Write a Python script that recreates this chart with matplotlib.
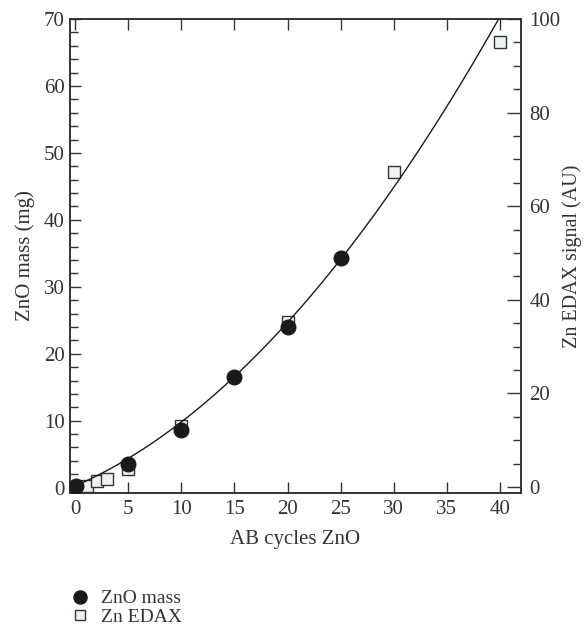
import numpy as np
import matplotlib.pyplot as plt
from matplotlib.ticker import MultipleLocator

plt.rcParams['font.family'] = ['Liberation Serif', 'DejaVu Serif']

# ZnO mass (left axis, mg)
mass_x = [0.1, 5, 10, 15, 20, 25]
mass_y = [0.2, 3.6, 8.6, 16.6, 24.0, 34.3]

# Zn EDAX signal (right axis, AU)
edax_x = [1.1, 2, 3, 5, 10, 20, 30, 40]
edax_y = [0.3, 1.3, 1.6, 3.8, 13.0, 35.3, 67.3, 95.0]

# points (left axis units)
fit_x = [0, 10, 20, 30, 40]
fit_y = [0.5, 9.4, 24.5, 45.5, 70.0]

fig = plt.figure(figsize=(5.84, 6.26), dpi=100)
ax = fig.add_axes([70 / 584, 1 - 493 / 626, 451 / 584, 474 / 626])
ax2 = ax.twinx()

coef = np.polyfit(fit_x, fit_y, 2)
t = np.linspace(0, 40.2, 200)
ax.plot(t, np.polyval(coef, t), color='#1a1a1a', lw=1.0, zorder=2)

sq, = ax2.plot(edax_x, edax_y, 's', ms=8.5, mfc='#eef1f3', mec='#333333', mew=1.0,
               ls='none', zorder=3, label='Zn EDAX')
ci, = ax.plot(mass_x, mass_y, 'o', ms=10.5, color='#1a1a1a', ls='none', zorder=4,
              label='ZnO mass')
ax.set_zorder(ax2.get_zorder() + 1)
ax.patch.set_visible(False)

ax.set_xlim(-0.5, 42)
ax.set_ylim(-0.8, 70)
ax2.set_ylim(-1.3, 100)

ax.xaxis.set_major_locator(MultipleLocator(5))
ax.yaxis.set_major_locator(MultipleLocator(10))
ax.yaxis.set_minor_locator(MultipleLocator(2))
ax2.yaxis.set_major_locator(MultipleLocator(20))
ax2.yaxis.set_minor_locator(MultipleLocator(5))

fs = 15
ax.tick_params(axis='x', which='major', direction='in', top=True, length=8, width=1,
               labelsize=fs, color='#333333', labelcolor='#333333', pad=5)
ax.tick_params(axis='y', which='major', direction='in', length=8, width=1,
               labelsize=fs, color='#333333', labelcolor='#333333', pad=4)
ax.tick_params(axis='y', which='minor', direction='in', length=6, width=1, color='#333333')
ax2.tick_params(axis='y', which='major', direction='in', length=10, width=1,
                labelsize=fs, color='#333333', labelcolor='#333333', pad=6)
ax2.tick_params(axis='y', which='minor', direction='in', length=6, width=1, color='#333333')

for a in (ax, ax2):
    for s in a.spines.values():
        s.set_color('#333333')
        s.set_linewidth(1.2)

ax.set_xlabel('AB cycles ZnO', fontsize=fs, color='#333333', labelpad=8)
ax.set_ylabel('ZnO mass (mg)', fontsize=fs, color='#333333', labelpad=6)
ax2.set_ylabel('Zn EDAX signal (AU)', fontsize=fs - 0.5, color='#333333', labelpad=1)

fig.legend(handles=[ci, sq], loc='upper left', bbox_to_anchor=(64 / 584, 1 - 582 / 626),
           frameon=False, fontsize=14, handlelength=0.8, handletextpad=0.7,
           labelspacing=0.05, borderaxespad=0, labelcolor='#333333', markerscale=0.9)

plt.savefig('out.png', dpi=100)
